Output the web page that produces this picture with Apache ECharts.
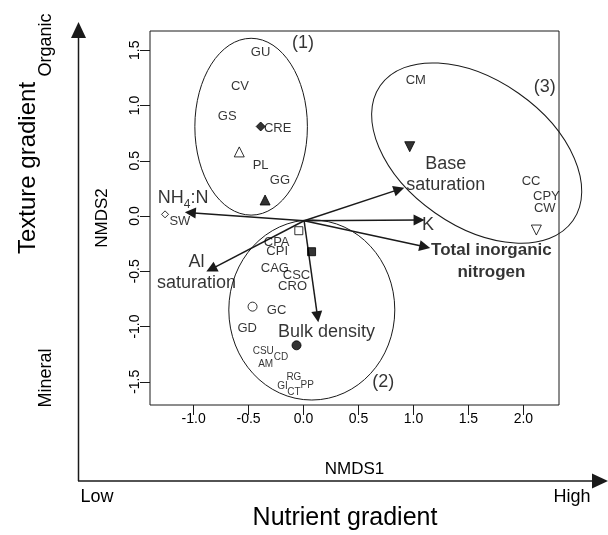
<!DOCTYPE html>
<html>
<head>
<meta charset="utf-8">
<script src="https://cdn.jsdelivr.net/npm/echarts@6/dist/echarts.min.js"></script>
<style>
html, body { margin: 0; padding: 0; background: #fff; }
#chart { width: 608px; height: 535px; }
</style>
</head>
<body>
<div id="chart"></div>
<script>
var xTicks = [-1.0, -0.5, 0.0, 0.5, 1.0, 1.5, 2.0];
var yTicks = [-1.5, -1.0, -0.5, 0.0, 0.5, 1.0, 1.5];

// site codes (label positions, NMDS units)
var siteNames = ['GU', 'CV', 'GS', 'CRE', 'PL', 'GG', 'SW', 'CPA', 'CPI', 'CAG', 'CSC', 'CRO', 'GC', 'GD', 'CM', 'CC', 'CPY', 'CW'];
var siteX = [-0.391, -0.579, -0.695, -0.236, -0.391, -0.215, -1.125, -0.245, -0.24, -0.261, -0.064, -0.1, -0.245, -0.513, 1.021, 2.07, 2.209, 2.194];
var siteY = [1.481, 1.170, 0.899, 0.794, 0.455, 0.319, -0.052, -0.238, -0.323, -0.473, -0.540, -0.633, -0.851, -1.016, 1.224, 0.310, 0.175, 0.070];

var smallNames = ['CSU', 'CD', 'AM', 'RG', 'GI', 'PP', 'CT'];
var smallX = [-0.367, -0.206, -0.345, -0.088, -0.191, 0.033, -0.088];
var smallY = [-1.228, -1.282, -1.339, -1.460, -1.538, -1.529, -1.599];

// group centroids (markers)
var markerX = [-0.39, -0.585, -0.35, -1.26, -0.043, 0.073, -0.464, -0.064, 0.966, 2.118];
var markerY = [0.81, 0.58, 0.145, 0.015, -0.133, -0.323, -0.82, -1.17, 0.627, -0.127];
var markerType = ['diamond', 'triangle', 'triangle', 'diamond', 'rect', 'rect', 'circle', 'circle', 'down', 'down'];
var markerFilled = [true, false, true, false, false, true, false, true, true, false];

// environmental vectors
var vecOrigin = [0.005, -0.043];
var vecX = [-1.03, -0.84, 0.127, 0.869, 1.051, 1.103];
var vecY = [0.03, -0.48, -0.911, 0.241, -0.036, -0.278];

var vecLabels = ['Al\nsaturation', 'Bulk density', 'Base\nsaturation', 'K'];
var vecLabelX = [-0.973, 0.209, 1.294, 1.133];
var vecLabelY = [-0.511, -1.047, 0.376, -0.081];
var nh4Pos = [-1.095, 0.145];
var tinPos = [1.709, -0.406];

// cluster ellipses
var groupNames = ['(1)', '(2)', '(3)'];
var groupLabelX = [-0.004, 0.724, 2.194];
var groupLabelY = [1.563, -1.5, 1.170];
var ellipseCX = [-0.477, 0.075, 1.575];
var ellipseCY = [0.808, -0.85, 0.570];
var ellipseRX = [0.512, 0.755, 1.07];
var ellipseRY = [0.80, 0.815, 0.66];
var ellipseAngle = [0, 0, -35];

var ink = '#1a1a1a';
var txt = '#000';
var font = 'Liberation Sans, Arial, sans-serif';

var myChart = echarts.init(document.getElementById('chart'));

function textSeries(names, xs, ys, label) {
    var data = [];
    for (var i = 0; i < names.length; i++) {
        data.push({ name: names[i], value: [xs[i], ys[i]] });
    }
    return {
        type: 'scatter',
        silent: true,
        symbolSize: 1,
        itemStyle: { color: 'rgba(0,0,0,0)' },
        label: Object.assign({
            show: true,
            position: 'inside',
            formatter: '{b}',
            color: txt,
            textBorderWidth: 0,
            fontFamily: font
        }, label),
        data: data,
        z: 5
    };
}

var markerData = [];
for (var i = 0; i < markerX.length; i++) {
    var t = markerType[i];
    var size = 9;
    if (t == 'triangle' || t == 'down') size = 10;
    if (t == 'rect') size = 8;
    if (i == 3) size = 7;
    markerData.push({
        value: [markerX[i], markerY[i]],
        symbol: t == 'down' ? 'triangle' : t,
        symbolRotate: t == 'down' ? 180 : 0,
        symbolSize: size,
        itemStyle: {
            color: markerFilled[i] ? txt : '#fff',
            borderColor: txt,
            borderWidth: 1
        }
    });
}

var vecData = [];
for (var j = 0; j < vecX.length; j++) {
    vecData.push({ coords: [vecOrigin, [vecX[j], vecY[j]]] });
}

var ellipseData = [];
for (var k = 0; k < ellipseCX.length; k++) {
    ellipseData.push([ellipseCX[k], ellipseCY[k], ellipseRX[k], ellipseRY[k], ellipseAngle[k]]);
}

var option = {
    animation: false,
    backgroundColor: '#fff',
    textStyle: { fontFamily: font },
    grid: {
        left: 150, top: 31, width: 409, height: 374,
        show: true, borderColor: ink, borderWidth: 1
    },
    xAxis: {
        type: 'value', min: -1.397, max: 2.324,
        name: 'NMDS1', nameLocation: 'middle', nameGap: 56,
        nameTextStyle: { fontSize: 17, color: txt, fontFamily: font },
        axisLine: { show: false, onZero: false },
        axisTick: { show: true, customValues: xTicks, length: 10, lineStyle: { color: ink } },
        axisLabel: {
            customValues: xTicks, fontSize: 14, color: txt, margin: 7,
            formatter: function (v) { return v.toFixed(1); }
        },
        splitLine: { show: false }
    },
    yAxis: {
        type: 'value', min: -1.71, max: 1.674,
        name: 'NMDS2', nameLocation: 'middle', nameGap: 39, nameRotate: 90,
        nameTextStyle: { fontSize: 17, color: txt, fontFamily: font },
        axisLine: { show: false, onZero: false },
        axisTick: { show: true, customValues: yTicks, length: 10, lineStyle: { color: ink } },
        axisLabel: {
            customValues: yTicks, fontSize: 14, color: txt, margin: 8, rotate: 90,
            formatter: function (v) { return v.toFixed(1); }
        },
        splitLine: { show: false }
    },
    graphic: [
        // gradient arrows
        { type: 'line', shape: { x1: 78.5, y1: 481, x2: 78.5, y2: 36 }, style: { stroke: ink, lineWidth: 1.5 } },
        { type: 'polygon', shape: { points: [[78.5, 22], [71, 38], [86, 38]] }, style: { fill: ink } },
        { type: 'line', shape: { x1: 78, y1: 481, x2: 594, y2: 481 }, style: { stroke: ink, lineWidth: 1.5 } },
        { type: 'polygon', shape: { points: [[608, 481], [592, 473.5], [592, 488.5]] }, style: { fill: ink } },
        { type: 'text', x: 28, y: 168, rotation: Math.PI / 2, style: { text: 'Texture gradient', font: '24px ' + font, fill: txt, align: 'center', verticalAlign: 'middle' } },
        { type: 'text', x: 46, y: 45, rotation: Math.PI / 2, style: { text: 'Organic', font: '18px ' + font, fill: txt, align: 'center', verticalAlign: 'middle' } },
        { type: 'text', x: 46, y: 378, rotation: Math.PI / 2, style: { text: 'Mineral', font: '18px ' + font, fill: txt, align: 'center', verticalAlign: 'middle' } },
        { type: 'text', x: 97, y: 497, style: { text: 'Low', font: '18px ' + font, fill: txt, align: 'center', verticalAlign: 'middle' } },
        { type: 'text', x: 572, y: 497, style: { text: 'High', font: '18px ' + font, fill: txt, align: 'center', verticalAlign: 'middle' } },
        { type: 'text', x: 345, y: 518, style: { text: 'Nutrient gradient', font: '25px ' + font, fill: txt, align: 'center', verticalAlign: 'middle' } }
    ],
    series: [
        {
            type: 'custom',
            silent: true,
            clip: false,
            renderItem: function (params, api) {
                var c = api.coord([api.value(0), api.value(1)]);
                var rx = api.size([api.value(2), 0])[0];
                var ry = api.size([0, api.value(3)])[1];
                return {
                    type: 'ellipse',
                    x: c[0], y: c[1],
                    rotation: api.value(4) * Math.PI / 180,
                    shape: { cx: 0, cy: 0, rx: rx, ry: ry },
                    style: { fill: 'none', stroke: ink, lineWidth: 1 }
                };
            },
            encode: { x: 0, y: 1 },
            data: ellipseData,
            z: 1
        },
        {
            type: 'lines',
            coordinateSystem: 'cartesian2d',
            silent: true,
            symbol: ['none', 'triangle'],
            symbolSize: 11,
            lineStyle: { color: ink, width: 1.5, opacity: 1 },
            data: vecData,
            z: 3
        },
        {
            type: 'scatter',
            silent: true,
            data: markerData,
            z: 4
        },
        textSeries(siteNames, siteX, siteY, { fontSize: 13 }),
        textSeries(smallNames, smallX, smallY, { fontSize: 10 }),
        textSeries(groupNames, groupLabelX, groupLabelY, { fontSize: 18 }),
        textSeries(vecLabels, vecLabelX, vecLabelY, { fontSize: 18, lineHeight: 21 }),
        textSeries(['NH4:N'], [nh4Pos[0]], [nh4Pos[1]], {
            formatter: '{a|NH}{s|4}{a|:N}',
            rich: {
                a: { fontSize: 18, lineHeight: 22, verticalAlign: 'top', color: txt, fontFamily: font },
                s: { fontSize: 12, lineHeight: 12, verticalAlign: 'bottom', color: txt, fontFamily: font }
            }
        }),
        textSeries(['Total inorganic\nnitrogen'], [tinPos[0]], [tinPos[1]], { fontSize: 17, fontWeight: 'bold', lineHeight: 22 })
    ]
};

myChart.setOption(option);
</script>
</body>
</html>
